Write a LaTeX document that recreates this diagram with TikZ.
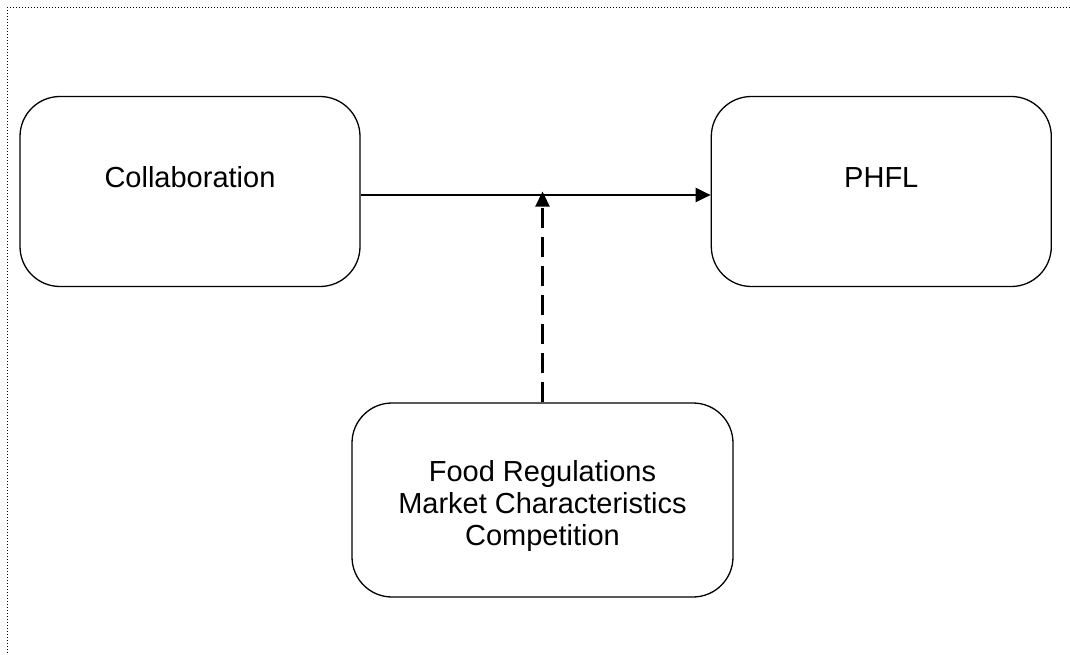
\documentclass[tikz,border=0pt]{standalone}
\usepackage{fontspec}
\setmainfont{Liberation Sans}
\usetikzlibrary{arrows.meta,positioning}

\begin{document}
\begin{tikzpicture}[x=1pt,y=-1pt,node distance=350pt,
    box/.style={draw,line width=1.3pt,rounded corners=40pt,
      minimum width=340pt,minimum height=190pt,
      font=\fontsize{29}{32}\selectfont},
    onetext/.style={text height=21pt,text depth=30pt},
    link/.style={line width=2.2pt,-{Triangle[length=15pt,width=14pt]}}]
      \useasboundingbox (0,0) rectangle (1070,655);
      \draw[dotted,line width=1pt] (1070,8) -- (7,8) -- (7,655);

      \node[box,onetext] (collab) at (190,191.5) {Collaboration};
      \node[box,onetext] (phfl) [right=of collab] {PHFL};
      \node[box,align=center,text height=98pt,text depth=8pt,
        minimum width=381pt,minimum height=194pt]
        (factors) at (542.5,500) {Food Regulations\\Market Characteristics\\Competition};

      \coordinate (meet) at (factors.north |- collab.east);

      \draw[link] (collab.east |- 0,195) -- (phfl.west |- 0,195);
      \draw[link,dash pattern=on 20pt off 9pt] (factors.north) -- (meet);
\end{tikzpicture}
\end{document}
